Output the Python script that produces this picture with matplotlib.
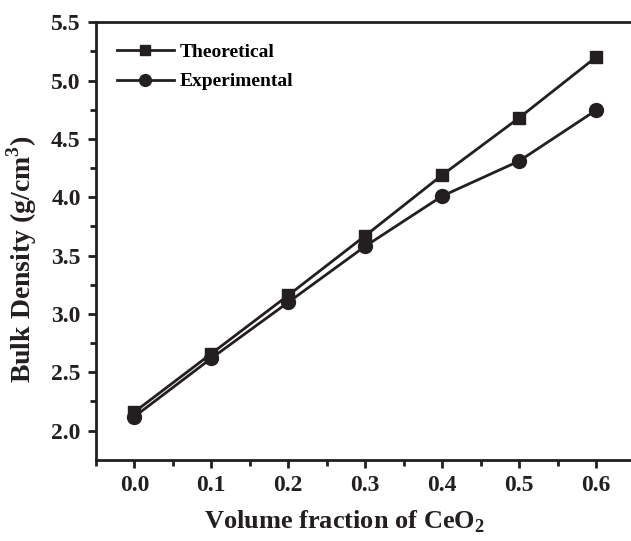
import matplotlib
matplotlib.use("Agg")
import matplotlib.pyplot as plt

vol_frac = [0.0, 0.1, 0.2, 0.3, 0.4, 0.5, 0.6]
theoretical = [2.16, 2.66, 3.16, 3.67, 4.19, 4.68, 5.20]
experimental = [2.12, 2.62, 3.10, 3.58, 4.01, 4.31, 4.745]

plt.rcParams['font.family'] = ['Liberation Serif', 'DejaVu Serif']
plt.rcParams['font.weight'] = 'bold'
plt.rcParams['mathtext.fontset'] = 'custom'
plt.rcParams['mathtext.rm'] = 'Liberation Serif:bold'
plt.rcParams['mathtext.bf'] = 'Liberation Serif:bold'

ink = '#231f20'

fig = plt.figure(figsize=(6.31, 5.41), dpi=100)
ax = fig.add_axes([0.152, 0.15, 0.848, 0.809])

ax.plot(vol_frac, theoretical, color=ink, lw=2.0, marker='s', markersize=9, label='Theoretical')
ax.plot(vol_frac, experimental, color=ink, lw=2.0, marker='o', markersize=10, label='Experimental')

ax.set_xlim(-0.05, 0.6455)
ax.set_ylim(1.75, 5.5)
ax.set_xticks([0.0, 0.1, 0.2, 0.3, 0.4, 0.5, 0.6])
ax.set_xticks([-0.05, 0.05, 0.15, 0.25, 0.35, 0.45, 0.55], minor=True)
ax.set_yticks([2.0, 2.5, 3.0, 3.5, 4.0, 4.5, 5.0, 5.5])
ax.set_yticks([2.25, 2.75, 3.25, 3.75, 4.25, 4.75, 5.25], minor=True)
ax.set_xticklabels([f"{v:.1f}" for v in [0.0, 0.1, 0.2, 0.3, 0.4, 0.5, 0.6]])
ax.set_yticklabels([f"{v:.1f}" for v in [2.0, 2.5, 3.0, 3.5, 4.0, 4.5, 5.0, 5.5]])

ax.tick_params(which='major', direction='out', length=6, width=2, labelsize=17, colors=ink, pad=5)
ax.tick_params(which='minor', direction='out', length=4, width=2, colors=ink)
for side in ['left', 'bottom', 'top']:
    ax.spines[side].set_linewidth(2)
    ax.spines[side].set_color(ink)
ax.spines['right'].set_visible(False)

ax.set_xlabel('Volume fraction of CeO$_2$', fontsize=19, fontweight='bold', color=ink)
ax.set_ylabel('Bulk Density (g/cm$^3$)', fontsize=20, fontweight='bold', color=ink)
ax.xaxis.set_label_coords(0.464, -0.112)
ax.yaxis.set_label_coords(-0.107, 0.459)

ax.legend(loc='upper left', frameon=False, fontsize=14, handlelength=2.9, markerscale=0.85,
          borderaxespad=0.7, labelspacing=0.6, handletextpad=0.3)

fig.savefig('out.png', dpi=100)
